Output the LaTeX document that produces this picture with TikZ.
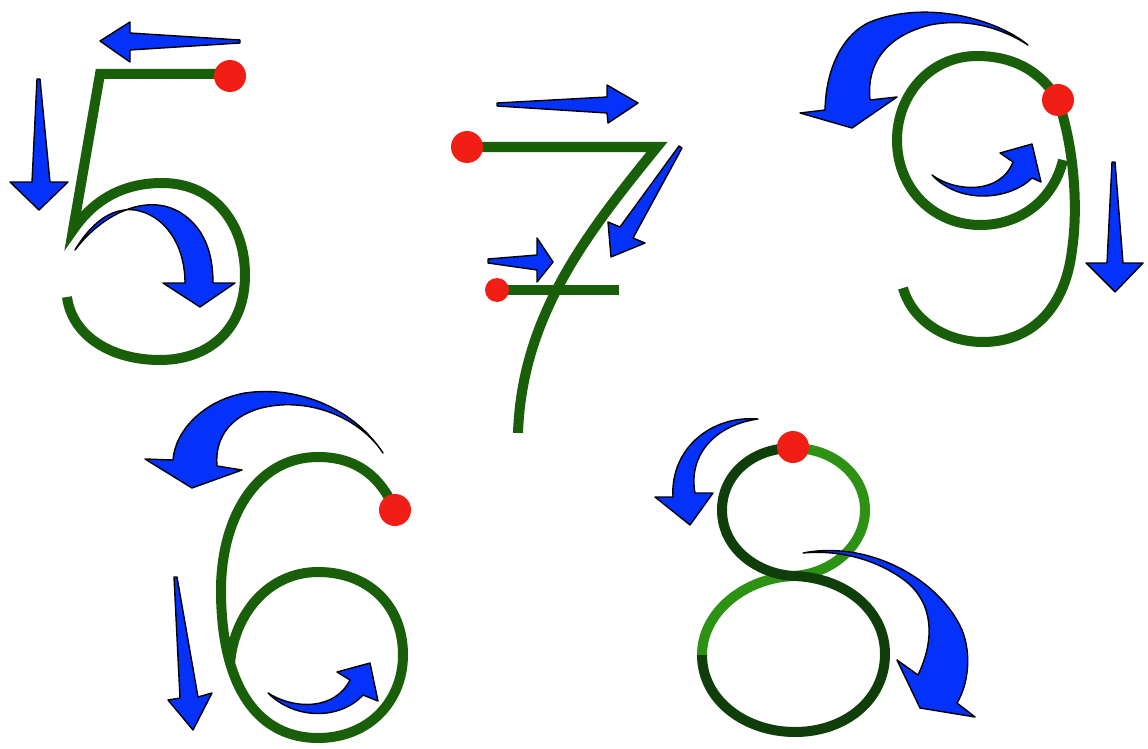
\documentclass[tikz,border=0pt]{standalone}
\definecolor{dgreen}{RGB}{25,95,10}
\definecolor{lgreen}{RGB}{45,145,20}
\definecolor{xgreen}{RGB}{15,62,10}
\definecolor{ablue}{RGB}{5,50,250}
\definecolor{rdot}{RGB}{240,30,20}
\tikzset{
  digit/.style={line width=10pt, draw=dgreen, line join=miter, line cap=butt},
  arr/.style={fill=ablue, draw=black, line width=1.4pt, line join=round},
  dotc/.style={fill=rdot},
}
\begin{document}
\begin{tikzpicture}[x=1pt,y=-1pt]
\useasboundingbox[fill=white] (0,0) rectangle (1148,749);

% ---------- digit 5
\draw[digit] (230,74) -- (100,74) -- (73,230)
  .. controls (95,198) and (125,183) .. (162,183)
  .. controls (215,183) and (245,225) .. (245,275)
  .. controls (245,330) and (208,360) .. (160,360)
  .. controls (110,360) and (72,335) .. (67,297);
\fill[dotc] (230,76) circle[radius=16];

% ---------- digit 7
\draw[digit] (467,147) -- (657,147)
  .. controls (588,232) and (522,315) .. (518,433);
\draw[digit] (497,290) -- (619,290);
\fill[dotc] (467,147) circle[radius=16];
\fill[dotc] (497,290) circle[radius=12];

% ---------- digit 9
\draw[digit] (1058,100) .. controls (1040,70) and (1012,56) .. (977,56)
  .. controls (930,56) and (897,95) .. (897,140)
  .. controls (897,190) and (935,225) .. (980,225)
  .. controls (1025,225) and (1055,195) .. (1063,160);
\draw[digit] (1058,100) .. controls (1075,150) and (1078,210) .. (1072,250)
  .. controls (1065,310) and (1030,342) .. (983,342)
  .. controls (945,342) and (912,320) .. (903,288);
\fill[dotc] (1058,100) circle[radius=16];

% ---------- digit 6
\draw[digit] (395,510) .. controls (380,475) and (355,457) .. (318,457)
  .. controls (255,457) and (221,520) .. (221,590)
  .. controls (221,690) and (260,738) .. (318,738)
  .. controls (370,738) and (403,700) .. (403,655)
  .. controls (403,605) and (368,572) .. (318,572)
  .. controls (268,572) and (233,615) .. (230,665);
\fill[dotc] (395,510) circle[radius=16];

% ---------- digit 8
\draw[digit, draw=lgreen] (702,655) .. controls (702,612) and (745,578) .. (793,576)
  .. controls (832,574) and (865,545) .. (865,510)
  .. controls (865,475) and (833,448) .. (793,448);
\draw[digit, draw=xgreen] (793,448) .. controls (752,448) and (722,475) .. (722,510)
  .. controls (722,550) and (760,575) .. (795,576)
  .. controls (845,578) and (885,610) .. (885,654)
  .. controls (885,700) and (845,732) .. (795,732)
  .. controls (745,732) and (702,700) .. (702,655);
\fill[dotc] (793,447) circle[radius=16];

% ---------- arrows of 5
\filldraw[arr] (240,40) -- (130,33) -- (130,22) -- (100,41) -- (130,62) -- (130,50) -- (240,43) -- cycle;
\filldraw[arr] (37,79) -- (32,182) -- (10,182) -- (39,210) -- (68,182) -- (50,182) -- (40,79) -- cycle;
\filldraw[arr] (75,250) .. controls (105,210) and (160,185) .. (195,225)
  .. controls (208,240) and (213,260) .. (213,283)
  -- (235,283) -- (200,307) -- (163,283) -- (185,283)
  .. controls (185,245) and (165,215) .. (135,210)
  .. controls (110,207) and (90,225) .. (75,250) -- cycle;

% ---------- arrows of 7
\filldraw[arr] (497,103) -- (607,97) -- (607,85) -- (638,103) -- (608,123) -- (607,113) -- (497,106) -- cycle;
\filldraw[arr] (682,148) -- (633,238) -- (645,243) -- (611,257) -- (608,222) -- (620,227) -- (679,146) -- cycle;
\filldraw[arr] (488,259) -- (537,255) -- (537,238) -- (553,262) -- (537,282) -- (537,270) -- (488,263) -- cycle;

% ---------- arrows of 9
\filldraw[arr] (1028,45) .. controls (995,18) and (925,0) .. (870,22)
  .. controls (845,33) and (826,65) .. (825,110)
  -- (800,113) -- (852,128) -- (897,97) -- (870,100)
  .. controls (866,60) and (890,35) .. (930,25)
  .. controls (970,17) and (1005,30) .. (1028,45) -- cycle;
\filldraw[arr] (932,175) .. controls (955,192) and (1000,195) .. (1013,162)
  -- (1000,153) -- (1032,144) -- (1041,182) -- (1032,178)
  .. controls (1010,200) and (960,205) .. (932,175) -- cycle;
\filldraw[arr] (1112,162) -- (1107,263) -- (1086,263) -- (1115,292) -- (1143,263) -- (1123,263) -- (1115,162) -- cycle;

% ---------- arrows of 6
\filldraw[arr] (383,453) .. controls (355,410) and (300,385) .. (245,393)
  .. controls (205,400) and (175,430) .. (173,460)
  -- (145,459) -- (192,488) -- (242,470) -- (217,466)
  .. controls (214,430) and (240,408) .. (280,405)
  .. controls (325,402) and (365,425) .. (383,453) -- cycle;
\filldraw[arr] (174,577) -- (180,698) -- (168,700) -- (193,730) -- (212,693) -- (198,697) -- (177,577) -- cycle;
\filldraw[arr] (268,693) .. controls (295,710) and (335,710) .. (350,680)
  -- (337,672) -- (370,663) -- (378,701) -- (363,695)
  .. controls (340,720) and (295,720) .. (268,693) -- cycle;

% ---------- arrows of 8
\filldraw[arr] (758,419) .. controls (710,415) and (670,450) .. (673,497)
  -- (655,497) -- (690,525) -- (713,493) -- (695,493)
  .. controls (688,455) and (715,425) .. (758,419) -- cycle;
\filldraw[arr] (803,553) .. controls (870,540) and (940,580) .. (962,630)
  .. controls (972,655) and (968,685) .. (957,703)
  -- (975,717) -- (920,708) -- (897,660) -- (918,675)
  .. controls (935,640) and (935,600) .. (900,577)
  .. controls (870,557) and (835,550) .. (803,553) -- cycle;
\end{tikzpicture}
\end{document}
